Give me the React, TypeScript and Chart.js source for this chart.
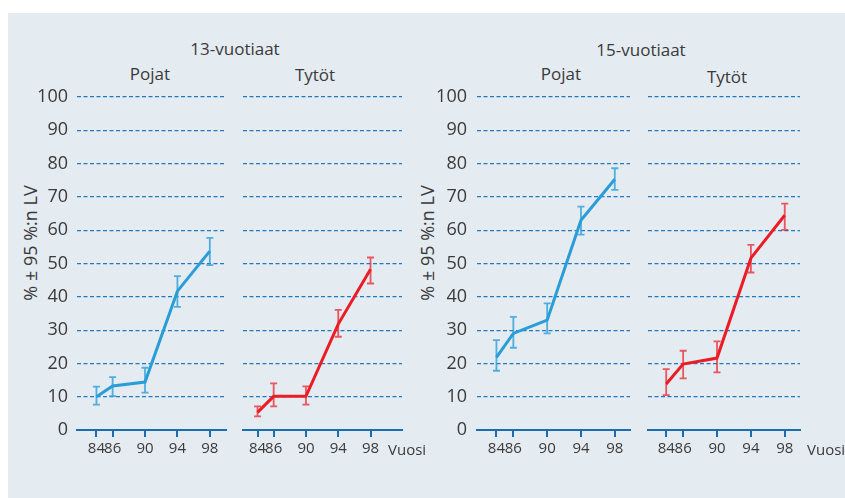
import React, { useEffect, useRef } from "react";
import { Chart, registerables } from "chart.js";

Chart.register(...registerables);

// ---- data ----
const YEARS = [84, 86, 90, 94, 98];
const X_TICKS = [84, 86, 90, 94, 98];
const Y_MIN = 0;
const Y_MAX = 100;
const Y_STEP = 10;

const BOYS13 = [10.0, 13.2, 14.4, 41.7, 53.7];
const BOYS13_LOW = [7.6, 10.2, 11.2, 37.0, 49.5];
const BOYS13_HIGH = [13.0, 15.9, 18.7, 46.2, 57.7];

const GIRLS13 = [5.3, 10.1, 10.1, 31.8, 48.3];
const GIRLS13_LOW = [4.1, 7.1, 7.6, 28.0, 44.0];
const GIRLS13_HIGH = [7.1, 14.0, 13.1, 36.1, 51.8];

const BOYS15 = [21.8, 29.0, 33.0, 63.0, 75.3];
const BOYS15_LOW = [17.8, 24.7, 29.0, 58.7, 72.1];
const BOYS15_HIGH = [27.0, 34.0, 38.0, 67.1, 78.6];

const GIRLS15 = [13.8, 19.8, 21.6, 51.6, 64.5];
const GIRLS15_LOW = [10.5, 15.5, 17.3, 47.3, 60.1];
const GIRLS15_HIGH = [18.3, 23.8, 26.6, 55.6, 68.0];

const AGE_TITLES = ["13-vuotiaat", "15-vuotiaat"];
const GENDER_TITLES = ["Pojat", "Tytöt"];
const Y_TITLE = "% ± 95 %:n LV";
const X_TITLE = "Vuosi";

// ---- styles ----
const FONT = "'Open Sans', 'Noto Sans', sans-serif";
const TEXT = "#3a3a3a";
const BG = "#e4ebf1";
const GRID = "#2079c2";
const AXIS = "#1b6cb0";
const BLUE = "#2a9dd8";
const BLUE_ERR = "rgba(43,159,217,0.8)";
const RED = "#ec1c24";
const RED_ERR = "rgba(236,28,36,0.72)";

const OX = 8; // container page offset
const OY = 13;
const CANVAS_TOP = 81;
const CANVAS_H = 389;

const errorBars = {
  id: "errorBars",
  beforeDatasetsDraw(chart: any) {
    const { ctx } = chart;
    const xs = chart.scales.x;
    const ys = chart.scales.y;
    chart.data.datasets.forEach((ds: any) => {
      ctx.save();
      ctx.strokeStyle = ds.errColor;
      ctx.lineWidth = 1.8;
      ds.data.forEach((p: any, i: number) => {
        const x = xs.getPixelForValue(p.x);
        const y1 = ys.getPixelForValue(ds.errLow[i]);
        const y2 = ys.getPixelForValue(ds.errHigh[i]);
        ctx.beginPath();
        ctx.moveTo(x, y1);
        ctx.lineTo(x, y2);
        ctx.moveTo(x - 3.5, y1);
        ctx.lineTo(x + 3.5, y1);
        ctx.moveTo(x - 3.5, y2);
        ctx.lineTo(x + 3.5, y2);
        ctx.stroke();
      });
      ctx.restore();
    });
  },
};

type PanelProps = {
  values: number[];
  low: number[];
  high: number[];
  color: string;
  errColor: string;
  xMin: number;
  xMax: number;
  showY: boolean;
  yPad: number;
  left: number; // page x of canvas
  areaLeft: number;
  areaRight: number;
};

function Panel(p: PanelProps) {
  const ref = useRef<HTMLCanvasElement | null>(null);
  const width = p.areaRight + 2 - p.left;
  const yW = p.areaLeft - p.left;
  useEffect(() => {
    if (!ref.current) return;
    const chart = new Chart(ref.current, {
      type: "line",
      data: {
        datasets: [
          {
            data: YEARS.map((x, i) => ({ x, y: p.values[i] })),
            borderColor: p.color,
            borderWidth: 3,
            pointRadius: 0,
            tension: 0,
            fill: false,
            errLow: p.low,
            errHigh: p.high,
            errColor: p.errColor,
          } as any,
        ],
      },
      options: {
        animation: false,
        responsive: false,
        devicePixelRatio: 1,
        events: [],
        layout: { padding: { top: 16, right: 2, bottom: 0, left: 0 } },
        plugins: { legend: { display: false }, tooltip: { enabled: false } },
        scales: {
          x: {
            type: "linear",
            min: p.xMin,
            max: p.xMax,
            afterBuildTicks: (s: any) => {
              s.ticks = X_TICKS.map((v) => ({ value: v }));
            },
            afterFit: (s: any) => {
              s.height = 40;
            },
            ticks: {
              autoSkip: false,
              maxRotation: 0,
              padding: 3,
              color: TEXT,
              font: { family: FONT, size: 15 },
              callback: (v: any) => String(v),
            },
            grid: {
              drawOnChartArea: false,
              drawTicks: true,
              tickLength: 7,
              color: AXIS,
              lineWidth: 2,
            },
            border: { display: true, color: AXIS, width: 2 },
          },
          y: {
            type: "linear",
            min: Y_MIN,
            max: Y_MAX,
            afterFit: (s: any) => {
              s.width = yW;
            },
            ticks: {
              display: p.showY,
              stepSize: Y_STEP,
              padding: 0,
              color: TEXT,
              font: { family: FONT, size: 18 },
            },
            grid: {
              drawTicks: true,
              tickLength: p.yPad,
              tickColor: "rgba(0,0,0,0)",
              lineWidth: 1.2,
              color: (c: any) => (c.tick && c.tick.value === 0 ? "rgba(0,0,0,0)" : GRID),
            },
            border: { display: false, dash: [4, 2.5] },
          },
        },
      },
      plugins: [errorBars],
    });
    return () => chart.destroy();
  }, []);
  return (
    <canvas
      ref={ref}
      width={width}
      height={CANVAS_H}
      style={{
        position: "absolute",
        left: p.left - OX,
        top: CANVAS_TOP - OY,
        width,
        height: CANVAS_H,
      }}
    />
  );
}

function Label(props: { text: string; cx?: number; left?: number; baseline: number; size: number }) {
  const { text, cx, left, baseline, size } = props;
  const style: any = {
    position: "absolute",
    top: baseline - 0.888 * size - OY,
    fontFamily: FONT,
    fontSize: size,
    lineHeight: `${size}px`,
    color: TEXT,
    whiteSpace: "nowrap",
  };
  if (cx !== undefined) {
    style.left = cx - OX;
    style.transform = "translateX(-50%)";
  } else {
    style.left = (left as number) - OX;
  }
  return <div style={style}>{text}</div>;
}

function YTitle(props: { cx: number; cy: number }) {
  return (
    <div
      style={{
        position: "absolute",
        left: props.cx - 100 - OX,
        top: props.cy - 12 - OY,
        width: 200,
        height: 24,
        lineHeight: "24px",
        textAlign: "center",
        fontFamily: FONT,
        fontSize: 18,
        color: TEXT,
        whiteSpace: "nowrap",
        transform: "rotate(-90deg)",
      }}
    >
      {Y_TITLE}
    </div>
  );
}

export default function App() {
  return (
    <div
      style={{
        position: "absolute",
        left: OX,
        top: OY,
        width: 845 - OX,
        height: 498 - OY,
        background: BG,
        overflow: "hidden",
      }}
    >
      <Label text={AGE_TITLES[0]} cx={235} baseline={55} size={17} />
      <Label text={GENDER_TITLES[0]} cx={150} baseline={80} size={17} />
      <Label text={GENDER_TITLES[1]} cx={315} baseline={81} size={17} />
      <Label text={AGE_TITLES[1]} cx={641} baseline={56} size={17} />
      <Label text={GENDER_TITLES[0]} cx={561} baseline={80} size={17} />
      <Label text={GENDER_TITLES[1]} cx={727} baseline={83} size={17} />
      <YTitle cx={30} cy={243} />
      <YTitle cx={427} cy={243} />
      <Panel values={BOYS13} low={BOYS13_LOW} high={BOYS13_HIGH} color={BLUE} errColor={BLUE_ERR}
        xMin={81.6} xMax={100} showY={true} yPad={9} left={8} areaLeft={77} areaRight={226} />
      <Panel values={GIRLS13} low={GIRLS13_LOW} high={GIRLS13_HIGH} color={RED} errColor={RED_ERR}
        xMin={82.2} xMax={101.9} showY={false} yPad={0} left={236} areaLeft={243} areaRight={402} />
      <Panel values={BOYS15} low={BOYS15_LOW} high={BOYS15_HIGH} color={BLUE} errColor={BLUE_ERR}
        xMin={81.7} xMax={99.8} showY={true} yPad={10} left={420} areaLeft={477} areaRight={630} />
      <Panel values={GIRLS15} low={GIRLS15_LOW} high={GIRLS15_HIGH} color={RED} errColor={RED_ERR}
        xMin={81.85} xMax={99.8} showY={false} yPad={0} left={640} areaLeft={648} areaRight={800} />
      <Label text={X_TITLE} left={388} baseline={455} size={15} />
      <Label text={X_TITLE} left={807} baseline={455} size={15} />
    </div>
  );
}
